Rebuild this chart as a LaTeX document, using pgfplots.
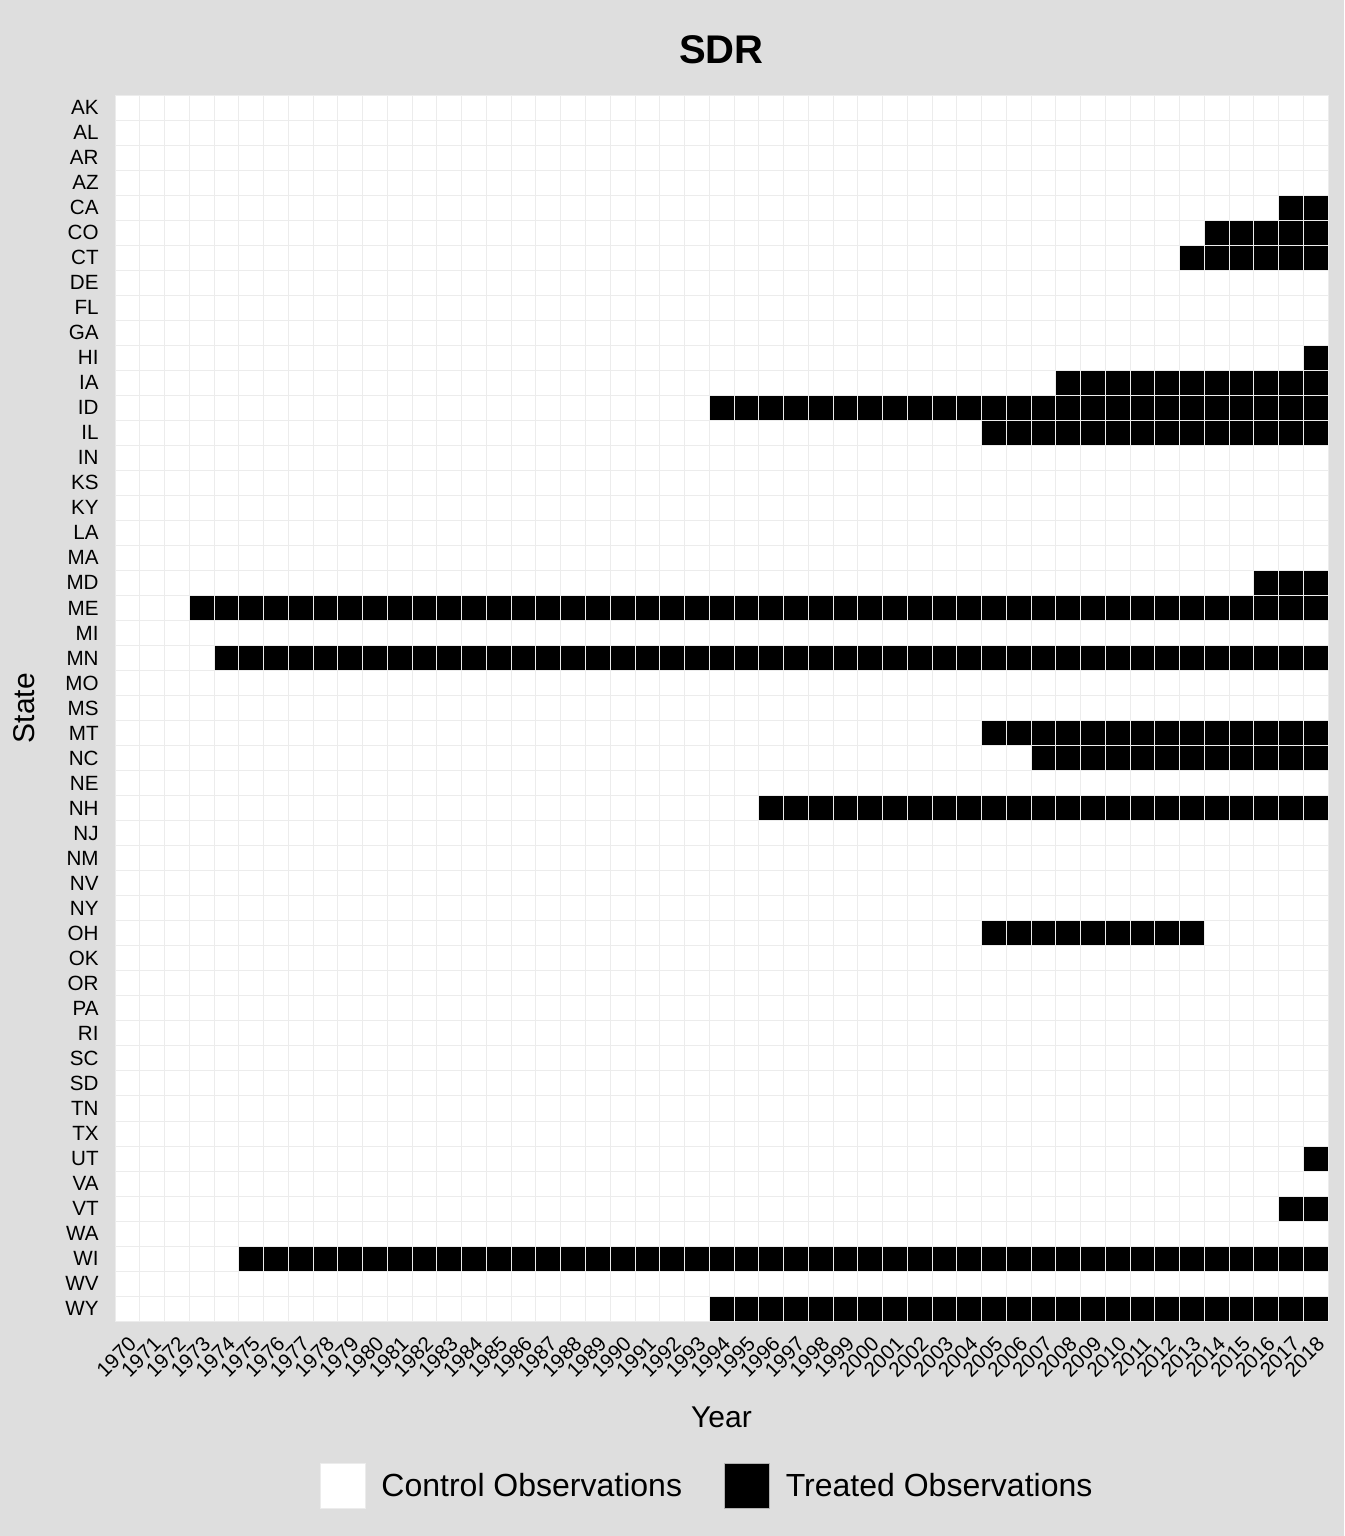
\documentclass[border=0pt]{standalone}
\usepackage{fontspec}
\setmainfont{Liberation Sans}
\usepackage{pgfplots}
\pgfplotsset{compat=1.18}
\definecolor{bg}{RGB}{222,222,222}
\begin{document}
\begin{tikzpicture}
\fill[bg] (-57.5pt,-107.5pt) rectangle (614.5pt,660.5pt);
\begin{axis}[
  scale only axis, width=606.5pt, height=613pt,
  xmin=1969.5, xmax=2018.5, ymin=0.5, ymax=49.5, y dir=reverse,
  axis background/.style={fill=white},
  axis on top,
  axis line style={draw=none},
  xtick={1970,...,2018}, ytick={1,...,49},
  yticklabels={AK,AL,AR,AZ,CA,CO,CT,DE,FL,GA,HI,IA,ID,IL,IN,KS,KY,LA,MA,MD,ME,MI,MN,MO,MS,MT,NC,NE,NH,NJ,NM,NV,NY,OH,OK,OR,PA,RI,SC,SD,TN,TX,UT,VA,VT,WA,WI,WV,WY},
  minor xtick={1969.5,1970.5,...,2018.5},
  minor ytick={0.5,1.5,...,49.5},
  xminorgrids, yminorgrids,
  minor grid style={draw=gray!15, line width=0.35pt},
  major tick length=0pt, minor tick length=0pt,
  tick style={draw=none},
  /pgf/number format/1000 sep={},
  /pgf/number format/assume math mode=true,
  tick label style={font=\fontsize{10.3}{12}\selectfont},
  xticklabel style={yshift=-7pt, rotate=45, anchor=north east, inner sep=0pt},
  yticklabel style={xshift=-8pt, anchor=east, inner sep=0pt},
  title={SDR},
  every axis title/.style={at={(0.5,1)}, anchor=base, yshift=16pt, font=\fontsize{20}{24}\selectfont\bfseries},
  xlabel={Year}, ylabel={State},
  every axis x label/.style={at={(0.5,0)}, anchor=base, yshift=-53pt, font=\fontsize{15}{18}\selectfont},
  every axis y label/.style={at={(0,0.5)}, xshift=-40pt, rotate=90, anchor=base, font=\fontsize{15}{18}\selectfont},
  legend columns=2,
  legend cell align=left,
  legend style={at={(0.4889,-0.1346)}, anchor=center, draw=none, fill=none,
    font=\fontsize{16}{19}\selectfont,
    /tikz/every even column/.append style={column sep=19pt}},
]
% treated intervals: rows (1 = AK at top), years as cell edges
\addplot[fill=black, draw=none, forget plot] coordinates {(2016.5,4.5) (2018.5,4.5) (2018.5,5.5) (2016.5,5.5)} -- cycle;   % CA
\addplot[fill=black, draw=none, forget plot] coordinates {(2013.5,5.5) (2018.5,5.5) (2018.5,6.5) (2013.5,6.5)} -- cycle;   % CO
\addplot[fill=black, draw=none, forget plot] coordinates {(2012.5,6.5) (2018.5,6.5) (2018.5,7.5) (2012.5,7.5)} -- cycle;   % CT
\addplot[fill=black, draw=none, forget plot] coordinates {(2017.5,10.5) (2018.5,10.5) (2018.5,11.5) (2017.5,11.5)} -- cycle; % HI
\addplot[fill=black, draw=none, forget plot] coordinates {(2007.5,11.5) (2018.5,11.5) (2018.5,12.5) (2007.5,12.5)} -- cycle; % IA
\addplot[fill=black, draw=none, forget plot] coordinates {(1993.5,12.5) (2018.5,12.5) (2018.5,13.5) (1993.5,13.5)} -- cycle; % ID
\addplot[fill=black, draw=none, forget plot] coordinates {(2004.5,13.5) (2018.5,13.5) (2018.5,14.5) (2004.5,14.5)} -- cycle; % IL
\addplot[fill=black, draw=none, forget plot] coordinates {(2015.5,19.5) (2018.5,19.5) (2018.5,20.5) (2015.5,20.5)} -- cycle; % MD
\addplot[fill=black, draw=none, forget plot] coordinates {(1972.5,20.5) (2018.5,20.5) (2018.5,21.5) (1972.5,21.5)} -- cycle; % ME
\addplot[fill=black, draw=none, forget plot] coordinates {(1973.5,22.5) (2018.5,22.5) (2018.5,23.5) (1973.5,23.5)} -- cycle; % MN
\addplot[fill=black, draw=none, forget plot] coordinates {(2004.5,25.5) (2018.5,25.5) (2018.5,26.5) (2004.5,26.5)} -- cycle; % MT
\addplot[fill=black, draw=none, forget plot] coordinates {(2006.5,26.5) (2018.5,26.5) (2018.5,27.5) (2006.5,27.5)} -- cycle; % NC
\addplot[fill=black, draw=none, forget plot] coordinates {(1995.5,28.5) (2018.5,28.5) (2018.5,29.5) (1995.5,29.5)} -- cycle; % NH
\addplot[fill=black, draw=none, forget plot] coordinates {(2004.5,33.5) (2013.5,33.5) (2013.5,34.5) (2004.5,34.5)} -- cycle; % OH
\addplot[fill=black, draw=none, forget plot] coordinates {(2017.5,42.5) (2018.5,42.5) (2018.5,43.5) (2017.5,43.5)} -- cycle; % UT
\addplot[fill=black, draw=none, forget plot] coordinates {(2016.5,44.5) (2018.5,44.5) (2018.5,45.5) (2016.5,45.5)} -- cycle; % VT
\addplot[fill=black, draw=none, forget plot] coordinates {(1974.5,46.5) (2018.5,46.5) (2018.5,47.5) (1974.5,47.5)} -- cycle; % WI
\addplot[fill=black, draw=none, forget plot] coordinates {(1993.5,48.5) (2018.5,48.5) (2018.5,49.5) (1993.5,49.5)} -- cycle; % WY
\addlegendimage{legend image code/.code={\draw[fill=white, draw=gray!15] (0pt,-11.25pt) rectangle (22.5pt,11.25pt); \path (28.5pt,0pt);}}
\addlegendentry{Control Observations}
\addlegendimage{legend image code/.code={\draw[fill=black, draw=gray!60] (0pt,-11.25pt) rectangle (22.5pt,11.25pt); \path (28.5pt,0pt);}}
\addlegendentry{Treated Observations}
\end{axis}
\pgfresetboundingbox
\path[use as bounding box] (-57.5pt,-107.5pt) rectangle (614.5pt,660.5pt);
\end{tikzpicture}
\end{document}
